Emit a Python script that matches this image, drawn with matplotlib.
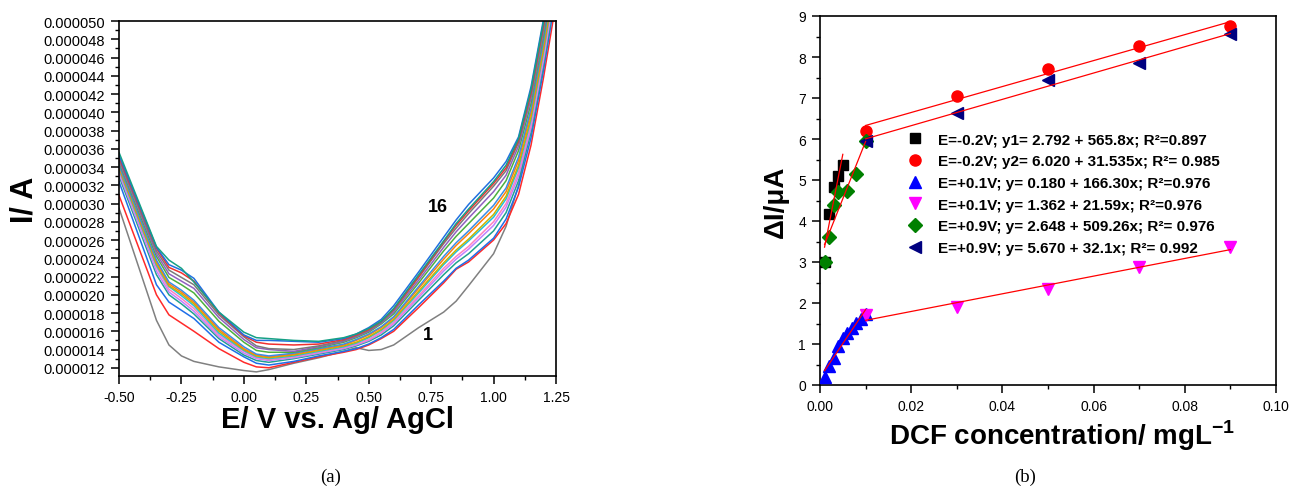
import matplotlib
matplotlib.use("Agg")
import matplotlib.pyplot as plt
import numpy as np
from matplotlib.ticker import MultipleLocator, FormatStrFormatter

plt.rcParams['font.family'] = ['Liberation Sans', 'DejaVu Sans']
plt.rcParams['mathtext.fontset'] = 'custom'
plt.rcParams['mathtext.rm'] = 'Liberation Sans'
plt.rcParams['mathtext.bf'] = 'Liberation Sans:bold'

# ---- panel (a): CV curves, current in 1e-6 A ----
E = [-0.5, -0.35, -0.3, -0.25, -0.2, -0.1, 0.0, 0.05, 0.1,
     0.2, 0.3, 0.4, 0.45, 0.5, 0.55, 0.6, 0.7, 0.8, 0.85, 0.9,
     1.0, 1.05, 1.1, 1.15, 1.2, 1.25]

i01 = [29.5, 17.2, 14.5, 13.3, 12.7, 12.1, 11.7, 11.55, 11.8,
       12.5, 13.1, 13.8, 14.2, 13.9, 14.0, 14.5, 16.4, 18.1, 19.3, 21.0,
       24.5, 27.5, 32.0, 38.6, 46.3, 55.0]
i02 = [30.9, 20.0, 17.8, 16.9, 16.0, 14.1, 12.6, 12.1, 12.0,
       12.6, 13.2, 13.7, 14.0, 14.5, 15.2, 16.0, 18.6, 21.3, 22.8, 23.6,
       26.0, 27.8, 31.0, 36.4, 43.8, 52.0]
i03 = [32.4, 21.1, 19.2, 18.3, 17.4, 14.8, 13.2, 12.5, 12.3,
       12.7, 13.3, 13.8, 14.1, 14.6, 15.3, 16.2, 18.9, 21.5, 22.9, 23.8,
       26.2, 28.3, 31.8, 37.2, 44.6, 53.0]
i04 = [33.0, 22.2, 20.0, 19.0, 17.9, 15.2, 13.4, 12.8, 12.6,
       13.0, 13.5, 14.0, 14.4, 14.9, 15.6, 16.6, 19.4, 22.2, 23.5, 24.5,
       27.0, 29.0, 32.5, 37.8, 45.2, 53.5]
i05 = [33.3, 22.6, 20.3, 19.3, 18.2, 15.4, 13.6, 13.0, 12.8,
       13.1, 13.6, 14.1, 14.5, 15.0, 15.8, 16.8, 19.7, 22.6, 23.9, 25.0,
       27.6, 29.6, 33.0, 38.3, 45.7, 54.0]
i06 = [33.5, 23.0, 20.6, 19.6, 18.5, 15.6, 13.8, 13.1, 12.9,
       13.2, 13.7, 14.2, 14.6, 15.1, 15.9, 17.0, 19.9, 22.9, 24.2, 25.3,
       28.0, 30.0, 33.4, 38.7, 46.1, 54.4]
i07 = [33.7, 23.2, 20.9, 19.9, 18.8, 15.8, 13.9, 13.2, 13.0,
       13.3, 13.8, 14.3, 14.7, 15.3, 16.1, 17.2, 20.2, 23.3, 24.7, 25.9,
       28.5, 30.5, 33.9, 39.2, 46.6, 54.8]
i08 = [33.9, 23.4, 21.0, 20.1, 19.0, 16.0, 14.0, 13.3, 13.1,
       13.4, 13.9, 14.4, 14.8, 15.4, 16.2, 17.3, 20.4, 23.5, 24.9, 26.1,
       28.8, 30.8, 34.2, 39.5, 46.9, 55.1]
i09 = [34.0, 23.6, 21.2, 20.3, 19.2, 16.2, 14.1, 13.4, 13.2,
       13.5, 14.0, 14.5, 15.0, 15.6, 16.4, 17.5, 20.7, 23.9, 25.4, 26.7,
       29.4, 31.3, 34.7, 40.0, 47.4, 55.5]
i10 = [34.2, 23.8, 21.4, 20.5, 19.4, 16.4, 14.3, 13.5, 13.3,
       13.6, 14.1, 14.6, 15.1, 15.7, 16.5, 17.6, 20.9, 24.2, 25.7, 27.0,
       29.8, 31.7, 35.1, 40.4, 47.8, 56.0]
i11 = [34.5, 24.2, 21.9, 21.1, 20.2, 17.1, 14.8, 13.9, 13.7,
       13.7, 14.2, 14.8, 15.3, 15.9, 16.8, 17.9, 21.3, 24.8, 26.4, 27.8,
       30.6, 32.5, 35.8, 41.0, 48.4, 56.5]
i12 = [34.7, 24.5, 22.3, 21.5, 20.7, 17.5, 15.1, 14.2, 14.0,
       13.8, 14.3, 14.9, 15.4, 16.0, 16.9, 18.1, 21.6, 25.2, 26.9, 28.4,
       31.3, 33.1, 36.3, 41.5, 48.9, 57.0]
i13 = [34.9, 24.8, 22.7, 21.9, 21.1, 17.8, 15.4, 14.4, 14.1,
       14.0, 14.4, 15.0, 15.5, 16.1, 17.0, 18.3, 21.9, 25.6, 27.3, 28.9,
       31.9, 33.6, 36.7, 41.9, 49.3, 57.5]
i14 = [35.1, 25.1, 23.0, 22.4, 21.5, 18.0, 15.5, 14.8, 14.6,
       14.5, 14.6, 15.1, 15.6, 16.2, 17.1, 18.4, 22.0, 25.8, 27.6, 29.2,
       32.2, 33.9, 36.9, 42.2, 49.6, 58.0]
i15 = [35.3, 25.2, 23.3, 22.7, 21.8, 18.1, 15.6, 15.0, 15.0,
       14.9, 14.8, 15.2, 15.7, 16.4, 17.3, 18.8, 22.5, 26.3, 28.2, 29.9,
       32.8, 34.6, 37.3, 42.8, 50.2, 58.5]
i16 = [35.6, 25.3, 23.8, 22.9, 21.4, 18.1, 15.9, 15.3, 15.2,
       15.0, 14.9, 15.3, 15.7, 16.3, 17.1, 18.5, 22.2, 25.9, 27.8, 29.4,
       32.4, 34.2, 37.1, 42.5, 49.9, 58.2]

curves = [i01, i02, i03, i04, i05, i06, i07, i08,
          i09, i10, i11, i12, i13, i14, i15, i16]
cv_colors = ['#808080', '#ff2a2a', '#1f6fe8', '#20a090', '#c080ff', '#ff80c0',
             '#20c0e0', '#c8b400', '#ff7f0e', '#3a8ee6', '#4cb040', '#9060c0',
             '#7a7a7a', '#f03030', '#2070e0', '#16a085']

# ---- panel (b): calibration data ----
x_blk = [0.001, 0.002, 0.003, 0.004, 0.005]
y_blk = [3.0, 4.18, 4.82, 5.10, 5.37]
x_red = [0.01, 0.03, 0.05, 0.07, 0.09]
y_red = [6.20, 7.05, 7.70, 8.28, 8.75]
x_blu = [0.001, 0.002, 0.003, 0.004, 0.005, 0.006, 0.007, 0.008, 0.009, 0.010]
y_blu = [0.20, 0.47, 0.66, 0.95, 1.15, 1.27, 1.40, 1.52, 1.60, 1.72]
x_mag = [0.01, 0.03, 0.05, 0.07, 0.09]
y_mag = [1.70, 1.91, 2.34, 2.88, 3.37]
x_grn = [0.001, 0.002, 0.003, 0.004, 0.006, 0.008, 0.010]
y_grn = [3.0, 3.6, 4.4, 4.7, 4.72, 5.15, 5.95]
x_nav = [0.01, 0.03, 0.05, 0.07, 0.09]
y_nav = [5.96, 6.63, 7.44, 7.85, 8.56]

labels = [
    "E=-0.2V; y1= 2.792 + 565.8x; R²=0.897",
    "E=-0.2V; y2= 6.020 + 31.535x; R²= 0.985",
    "E=+0.1V; y= 0.180 + 166.30x; R²=0.976",
    "E=+0.1V; y= 1.362 + 21.59x; R²=0.976",
    "E=+0.9V; y= 2.648 + 509.26x; R²= 0.976",
    "E=+0.9V; y= 5.670 + 32.1x; R²= 0.992",
]

fig = plt.figure(figsize=(12.92, 5.02), dpi=100)

# ---------- (a) ----------
ax1 = fig.add_axes([119/1292, 1-377/502, 437/1292, 355/502])
for c, col in zip(curves, cv_colors):
    ax1.plot(E, np.array(c) * 1e-6, color=col, lw=1.1)
ax1.set_xlim(-0.5, 1.25)
ax1.set_ylim(1.11e-5, 5.0e-5)
ax1.xaxis.set_major_locator(MultipleLocator(0.25))
ax1.xaxis.set_minor_locator(MultipleLocator(0.125))
ax1.yaxis.set_major_locator(MultipleLocator(2e-6))
ax1.yaxis.set_minor_locator(MultipleLocator(1e-6))
ax1.xaxis.set_major_formatter(FormatStrFormatter('%.2f'))
ax1.yaxis.set_major_formatter(FormatStrFormatter('%.6f'))
ax1.text(0.775, 29.7e-6, "16", fontsize=13, fontweight='bold', ha='center', va='center')
ax1.text(0.735, 15.6e-6, "1", fontsize=13, fontweight='bold', ha='center', va='center')
ax1.set_xlabel("E/ V vs. Ag/ AgCl", fontsize=21, fontweight='bold', labelpad=1)
ax1.set_ylabel("I/ A", fontsize=22, fontweight='bold', labelpad=3)

# ---------- (b) ----------
ax2 = fig.add_axes([820/1292, 1-386/502, 456/1292, 369/502])
ms = 7.5
ax2.plot(x_blk, y_blk, 's', color='black', ms=ms, ls='none', label=labels[0], zorder=3)
ax2.plot(x_red, y_red, 'o', color='red', ms=ms+0.5, ls='none', label=labels[1], zorder=3)
ax2.plot(x_blu, y_blu, '^', color='blue', ms=ms+1, ls='none', label=labels[2], zorder=3)
ax2.plot(x_mag, y_mag, 'v', color='magenta', ms=ms+1, ls='none', label=labels[3], zorder=3)
ax2.plot(x_grn, y_grn, 'D', color='green', ms=ms-0.5, ls='none', label=labels[4], zorder=3)
ax2.plot(x_nav, y_nav, '<', color='navy', ms=ms+1, ls='none', label=labels[5], zorder=3)

# linear fits drawn over each data set
for xs, ys in [(x_blk, y_blk), (x_red, y_red), (x_blu, y_blu),
               (x_mag, y_mag), (x_grn, y_grn), (x_nav, y_nav)]:
    k, b = np.polyfit(xs, ys, 1)
    xx = np.array([xs[0], xs[-1]])
    ax2.plot(xx, b + k * xx, color='red', lw=0.9, zorder=4)

ax2.set_xlim(0, 0.1)
ax2.set_ylim(0, 9)
ax2.xaxis.set_major_locator(MultipleLocator(0.02))
ax2.xaxis.set_minor_locator(MultipleLocator(0.01))
ax2.yaxis.set_major_locator(MultipleLocator(1))
ax2.yaxis.set_minor_locator(MultipleLocator(0.5))
ax2.xaxis.set_major_formatter(FormatStrFormatter('%.2f'))
ax2.set_xlabel("DCF concentration/ mgL$^{\\mathbf{-1}}$", fontsize=20, fontweight='bold', labelpad=3)
ax2.xaxis.label.set_x(0.53)
ax2.set_ylabel("ΔI/μA", fontsize=20, fontweight='bold', labelpad=7)
leg = ax2.legend(loc='upper left', bbox_to_anchor=(0.178, 0.70), frameon=False,
                 borderaxespad=0, handlelength=1.0, handletextpad=1.0,
                 labelspacing=0.5, prop={'weight': 'bold', 'size': 11})

for ax in (ax1, ax2):
    for s in ax.spines.values():
        s.set_linewidth(1.2)
    ax.tick_params(which='major', direction='out', length=6, width=1.1, labelsize=10, pad=4)
    ax.tick_params(which='minor', direction='out', length=3, width=1.0)
ax1.tick_params(axis='y', which='major', labelsize=10.5)

fig.text(331/1292, 1-477/502, "(a)", family='Liberation Serif', fontsize=13.5,
         ha='center', va='center')
fig.text(1025/1292, 1-477/502, "(b)", family='Liberation Serif', fontsize=13.5,
         ha='center', va='center')

fig.savefig("out.png", dpi=100)
